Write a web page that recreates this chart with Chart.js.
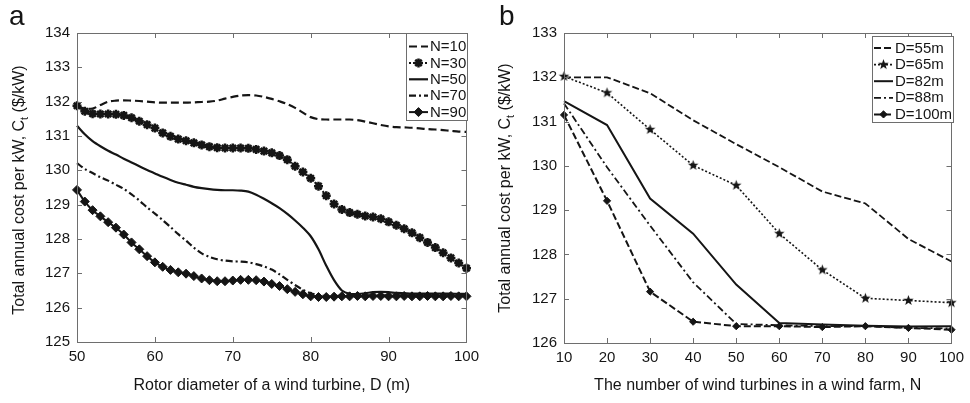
<!DOCTYPE html>
<html>
<head>
<meta charset="utf-8">
<script src="https://cdn.jsdelivr.net/npm/chart.js@4.4.0/dist/chart.umd.min.js"></script>
<style>
  html, body { margin: 0; padding: 0; background: #fff; }
  #wrap { position: relative; width: 970px; height: 403px; }
  canvas { position: absolute; top: 0; }
</style>
</head>
<body>
<div id="wrap">
  <canvas id="chartA" width="485" height="403" style="left:0"></canvas>
  <canvas id="chartB" width="485" height="403" style="left:485px"></canvas>
</div>
<script>
// panel (a): cost vs rotor diameter D, one curve per farm size N
const diameters = [50, 51, 52, 53, 54, 55, 56, 57, 58, 59, 60, 61, 62, 63, 64, 65, 66, 67, 68, 69,
  70, 71, 72, 73, 74, 75, 76, 77, 78, 79, 80, 81, 82, 83, 84, 85, 86, 87, 88, 89,
  90, 91, 92, 93, 94, 95, 96, 97, 98, 99, 100];
const costN10 = [131.88, 131.80, 131.80, 131.90, 132.00, 132.03, 132.04, 132.03, 132.02, 132.00,
  131.98, 131.97, 131.97, 131.97, 131.97, 131.98, 131.99, 132.00, 132.03, 132.09,
  132.14, 132.18, 132.19, 132.18, 132.14, 132.08, 132.01, 131.93, 131.82, 131.68,
  131.55, 131.49, 131.48, 131.48, 131.48, 131.48, 131.46, 131.42, 131.37, 131.32,
  131.28, 131.26, 131.25, 131.24, 131.22, 131.20, 131.19, 131.17, 131.15, 131.13, 131.12];
const costN30 = [131.88, 131.72, 131.65, 131.64, 131.64, 131.63, 131.60, 131.53, 131.43, 131.33,
  131.23, 131.09, 130.99, 130.91, 130.86, 130.80, 130.74, 130.69, 130.66, 130.65,
  130.65, 130.65, 130.64, 130.61, 130.56, 130.51, 130.43, 130.31, 130.12, 129.95,
  129.77, 129.54, 129.26, 129.02, 128.86, 128.77, 128.72, 128.67, 128.64, 128.59,
  128.50, 128.40, 128.30, 128.18, 128.04, 127.90, 127.75, 127.60, 127.45, 127.30, 127.15];
const costN50 = [131.30, 131.05, 130.85, 130.70, 130.57, 130.46, 130.34, 130.23, 130.12, 130.01,
  129.91, 129.81, 129.72, 129.64, 129.58, 129.52, 129.48, 129.45, 129.43, 129.42,
  129.42, 129.41, 129.38, 129.29, 129.17, 129.04, 128.90, 128.73, 128.54, 128.33,
  128.08, 127.70, 127.22, 126.80, 126.50, 126.40, 126.40, 126.42, 126.45, 126.46,
  126.45, 126.43, 126.42, 126.41, 126.41, 126.41, 126.41, 126.41, 126.41, 126.40, 126.40];
const costN70 = [130.21, 130.04, 129.92, 129.80, 129.70, 129.58, 129.46, 129.30, 129.12, 128.92,
  128.74, 128.55, 128.35, 128.14, 127.95, 127.75, 127.58, 127.48, 127.41, 127.37,
  127.35, 127.34, 127.32, 127.27, 127.20, 127.11, 126.97, 126.81, 126.66, 126.52,
  126.42, 126.36, 126.34, 126.34, 126.35, 126.35, 126.35, 126.36, 126.36, 126.36,
  126.36, 126.36, 126.36, 126.36, 126.36, 126.36, 126.36, 126.36, 126.36, 126.36, 126.36];
const costN90 = [129.43, 129.09, 128.84, 128.66, 128.49, 128.33, 128.13, 127.90, 127.70, 127.50,
  127.32, 127.19, 127.10, 127.03, 126.99, 126.92, 126.85, 126.80, 126.77, 126.77,
  126.79, 126.81, 126.81, 126.80, 126.76, 126.69, 126.63, 126.54, 126.46, 126.39,
  126.33, 126.31, 126.31, 126.32, 126.33, 126.33, 126.34, 126.33, 126.34, 126.34,
  126.33, 126.33, 126.34, 126.33, 126.33, 126.34, 126.33, 126.33, 126.34, 126.33, 126.33];
const xTicksA = [50, 60, 70, 80, 90, 100];
const yTicksA = [125, 126, 127, 128, 129, 130, 131, 132, 133, 134];

// panel (b): cost vs number of turbines N, one curve per diameter D
const turbines = [10, 20, 30, 40, 50, 60, 70, 80, 90, 100];
const costD55 = [132.00, 132.00, 131.64, 131.03, 130.49, 129.97, 129.42, 129.15, 128.35, 127.84];
const costD65 = [132.02, 131.65, 130.82, 130.01, 129.56, 128.47, 127.65, 127.01, 126.96, 126.91];
const costD82 = [131.46, 130.92, 129.26, 128.47, 127.32, 126.45, 126.42, 126.39, 126.37, 126.38];
const costD88 = [131.41, 129.97, 128.65, 127.37, 126.43, 126.40, 126.38, 126.38, 126.34, 126.33];
const costD100 = [131.15, 129.21, 127.16, 126.48, 126.38, 126.38, 126.36, 126.38, 126.34, 126.30];
const xTicksB = [10, 20, 30, 40, 50, 60, 70, 80, 90, 100];
const yTicksB = [126, 127, 128, 129, 130, 131, 132, 133];

const FONT = "Arial, 'Liberation Sans', Helvetica, sans-serif";
const INK = '#151515';
const FRAME = '#6e6e6e';

// filled n-point star used as a marker image
function starImage(n, ro, ri) {
  const s = Math.ceil(ro * 2 + 2);
  const c = document.createElement('canvas');
  c.width = c.height = s;
  const g = c.getContext('2d');
  g.fillStyle = INK;
  g.beginPath();
  for (let k = 0; k < 2 * n; k++) {
    const r = k % 2 ? ri : ro;
    const a = -Math.PI / 2 + k * Math.PI / n;
    g.lineTo(s / 2 + r * Math.cos(a), s / 2 + r * Math.sin(a));
  }
  g.closePath();
  g.fill();
  return c;
}
const pentagram = starImage(5, 5.5, 2.3);

function series(label, xs, ys, style) {
  return Object.assign({
    label,
    data: xs.map((v, i) => ({ x: v, y: ys[i] })),
    borderColor: INK,
    backgroundColor: INK,
    pointBackgroundColor: INK,
    pointBorderColor: INK,
    borderWidth: 2,
    pointRadius: 0,
    pointHoverRadius: 0,
    fill: false,
    clip: false,
    tension: 0
  }, style);
}

// MATLAB-like box with inward ticks on all four sides
const frame = {
  id: 'frame',
  afterDraw(chart) {
    const { ctx, chartArea: a, scales: { x, y } } = chart;
    ctx.save();
    ctx.strokeStyle = FRAME;
    ctx.lineWidth = 1;
    ctx.beginPath();
    x.ticks.forEach(t => {
      const px = Math.round(x.getPixelForValue(t.value)) + 0.5;
      ctx.moveTo(px, a.bottom); ctx.lineTo(px, a.bottom - 5);
      ctx.moveTo(px, a.top); ctx.lineTo(px, a.top + 5);
    });
    y.ticks.forEach(t => {
      const py = Math.round(y.getPixelForValue(t.value)) + 0.5;
      ctx.moveTo(a.left, py); ctx.lineTo(a.left + 5, py);
      ctx.moveTo(a.right, py); ctx.lineTo(a.right - 5, py);
    });
    ctx.stroke();
    ctx.strokeRect(Math.round(a.left) + 0.5, Math.round(a.top) + 0.5,
      Math.round(a.width), Math.round(a.height));
    ctx.restore();
  }
};

// boxed legend: line sample with marker in the middle, then text
const boxLegend = {
  id: 'boxLegend',
  afterDraw(chart, args, o) {
    const ctx = chart.ctx;
    ctx.save();
    ctx.fillStyle = '#fff';
    ctx.fillRect(o.x, o.y, o.w, o.h);
    ctx.strokeStyle = FRAME;
    ctx.lineWidth = 1;
    ctx.strokeRect(o.x + 0.5, o.y + 0.5, o.w, o.h);
    chart.data.datasets.forEach((ds, i) => {
      const yy = o.y + o.first + i * o.step;
      ctx.strokeStyle = ds.borderColor;
      ctx.lineWidth = ds.borderWidth;
      ctx.setLineDash(ds.borderDash || []);
      ctx.beginPath();
      ctx.moveTo(o.x0, yy);
      ctx.lineTo(o.x1, yy);
      ctx.stroke();
      ctx.setLineDash([]);
      if (ds.pointRadius > 0) {
        ctx.fillStyle = ds.pointBackgroundColor;
        ctx.strokeStyle = ds.pointBorderColor;
        ctx.lineWidth = ds.pointBorderWidth || 1;
        Chart.helpers.drawPoint(ctx, {
          pointStyle: ds.pointStyle, radius: ds.pointRadius,
          rotation: 0, borderWidth: ds.pointBorderWidth || 1
        }, (o.x0 + o.x1) / 2, yy);
      }
      ctx.fillStyle = INK;
      ctx.font = '15px ' + FONT;
      ctx.textBaseline = 'middle';
      ctx.textAlign = 'left';
      ctx.fillText(ds.label, o.tx, yy + 0.5);
    });
    ctx.restore();
  }
};

// rotated y title with a real subscript, plus the panel letter
const yTitle = {
  id: 'yTitle',
  afterDraw(chart, args, o) {
    const ctx = chart.ctx;
    ctx.save();
    ctx.fillStyle = INK;
    ctx.font = '28px ' + FONT;
    ctx.textBaseline = 'alphabetic';
    ctx.fillText(o.letter, o.lx, o.ly);
    ctx.translate(o.x, o.cy);
    ctx.rotate(-Math.PI / 2);
    ctx.textBaseline = 'middle';
    const big = '16px ' + FONT, small = '11px ' + FONT;
    const p1 = 'Total annual cost per kW, C', p2 = 't', p3 = ' ($/kW)';
    ctx.font = big;
    const w1 = ctx.measureText(p1).width, w3 = ctx.measureText(p3).width;
    ctx.font = small;
    const w2 = ctx.measureText(p2).width;
    let sx = -(w1 + w2 + w3) / 2;
    ctx.font = big; ctx.fillText(p1, sx, 0); sx += w1;
    ctx.font = small; ctx.fillText(p2, sx, 5); sx += w2;
    ctx.font = big; ctx.fillText(p3, sx, 0);
    ctx.restore();
  }
};

function axes(xr, yr, xTicks, yTicks, xTitle, yWidth, xHeight) {
  const tickFont = { size: 15, family: FONT };
  return {
    x: {
      type: 'linear', min: xr[0], max: xr[1],
      afterBuildTicks: s => { s.ticks = xTicks.map(v => ({ value: v })); },
      afterFit: s => { s.height = xHeight; },
      grid: { display: false, drawTicks: false, tickLength: 0 },
      border: { display: false },
      ticks: { padding: 6, font: tickFont, color: INK, maxRotation: 0 },
      title: { display: true, text: xTitle, color: INK,
        font: { size: 16, family: FONT }, padding: { top: 4, bottom: 8 } }
    },
    y: {
      type: 'linear', min: yr[0], max: yr[1],
      afterBuildTicks: s => { s.ticks = yTicks.map(v => ({ value: v })); },
      afterFit: s => { s.width = yWidth; },
      grid: { display: false, drawTicks: false, tickLength: 0 },
      border: { display: false },
      ticks: { padding: 7, font: tickFont, color: INK }
    }
  };
}

const chartA = new Chart(document.getElementById('chartA'), {
  type: 'line',
  data: {
    datasets: [
      series('N=10', diameters, costN10, { borderDash: [8, 4], borderWidth: 2.2, tension: 0.3 }),
      series('N=30', diameters, costN30, { borderDash: [2, 2], tension: 0.3,
        pointRadius: 4.5, pointStyle: 'star', pointBorderWidth: 2.5 }),
      series('N=50', diameters, costN50, { borderWidth: 2.2, tension: 0.3 }),
      series('N=70', diameters, costN70, { borderDash: [7, 3, 2, 3], borderWidth: 2.2, tension: 0.3 }),
      series('N=90', diameters, costN90, { borderWidth: 2, tension: 0.3,
        pointRadius: 4.5, pointStyle: 'rectRot', pointBorderWidth: 1 })
    ]
  },
  options: {
    responsive: false,
    animation: false,
    layout: { padding: { left: 0, right: 15, top: 33, bottom: 0 } },
    scales: axes([50, 100], [125, 134], xTicksA, yTicksA,
      'Rotor diameter of a wind turbine, D (m)', 77, 61),
    plugins: {
      legend: { display: false },
      tooltip: { enabled: false },
      boxLegend: { x: 406, y: 33, w: 61, h: 87, first: 13.5, step: 16.4, x0: 409, x1: 428, tx: 430 },
      yTitle: { letter: 'a', lx: 9, ly: 25, x: 20, cy: 190 }
    }
  },
  plugins: [frame, boxLegend, yTitle]
});

const chartB = new Chart(document.getElementById('chartB'), {
  type: 'line',
  data: {
    datasets: [
      series('D=55m', turbines, costD55, { borderDash: [7, 3], borderWidth: 1.8 }),
      series('D=65m', turbines, costD65, { borderDash: [2, 2], borderWidth: 1.6,
        pointRadius: 5.5, pointStyle: pentagram }),
      series('D=82m', turbines, costD82, { borderWidth: 2 }),
      series('D=88m', turbines, costD88, { borderDash: [7, 3, 2, 3], borderWidth: 1.8 }),
      series('D=100m', turbines, costD100, { borderDash: [7, 3], borderWidth: 2,
        pointRadius: 3.6, pointStyle: 'rectRot', pointBorderWidth: 1 })
    ]
  },
  options: {
    responsive: false,
    animation: false,
    layout: { padding: { left: 0, right: 14, top: 33, bottom: 0 } },
    scales: axes([10, 100], [126, 133], xTicksB, yTicksB,
      'The number of wind turbines in a wind farm, N', 79, 60),
    plugins: {
      legend: { display: false },
      tooltip: { enabled: false },
      boxLegend: { x: 387, y: 36, w: 81, h: 86, first: 12, step: 16.6, x0: 389, x1: 408, tx: 410 },
      yTitle: { letter: 'b', lx: 14, ly: 25, x: 21, cy: 188 }
    }
  },
  plugins: [frame, boxLegend, yTitle]
});
</script>
</body>
</html>
